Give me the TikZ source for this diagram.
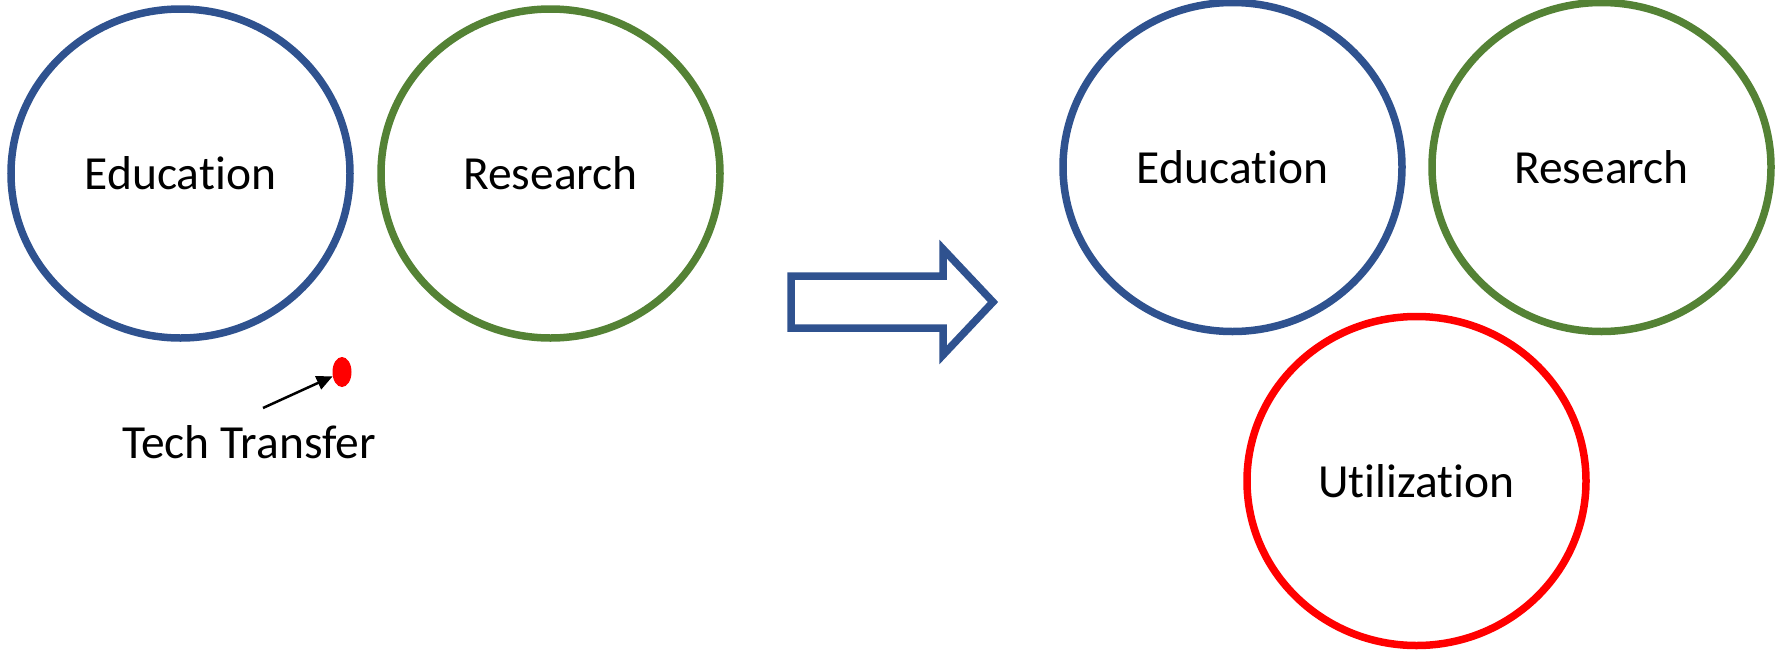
\documentclass[tikz,border=0pt]{standalone}
\usepackage{fontspec}
\setmainfont{Carlito}[Ligatures={NoCommon}]
\usetikzlibrary{shapes.geometric,arrows.meta}
\definecolor{eblue}{RGB}{47,82,143}
\definecolor{rgreen}{RGB}{84,130,53}
\definecolor{ured}{RGB}{255,0,0}
\tikzset{
  oval/.style={ellipse, draw, line width=7.5pt, minimum width=339pt, minimum height=329pt, inner sep=0pt, font=\fontsize{47.5}{52}\selectfont},
  lbl/.style={inner sep=0pt, font=\fontsize{47.5}{52}\selectfont},
  blockarrow/.style={draw=eblue, line width=7.5pt, line join=miter},
  pointer/.style={draw=black, line width=2.5pt, -{Triangle[length=16pt,width=14pt]}}
}
\begin{document}
\begin{tikzpicture}[x=1pt,y=-1pt]
\useasboundingbox (0,0) rectangle (1777,651);
% left side
\node[oval, draw=eblue] (edu1) at (180.5,173.5) {Education};
\node[oval, draw=rgreen] (res1) at (550.5,173.5) {Research};
\node[ellipse, fill=ured, minimum width=19pt, minimum height=30pt, inner sep=0pt] (dot) at (342,372) {};
\coordinate (ttstart) at (263,408);
\draw[pointer] (ttstart) -- (dot);
\node[lbl] (tt) at (249,442) {Tech Transfer};
% block arrow
\draw[blockarrow] (791,276) -- (943,276) -- (943,249) -- (993,302) -- (943,355) -- (943,328) -- (791,328) -- cycle;
% right side
\node[oval, draw=eblue] (edu2) at (1232.5,167) {Education};
\node[oval, draw=rgreen] (res2) at (1601.5,167) {Research};
\node[oval, draw=ured] (uti) at (1416.5,481) {Utilization};
\end{tikzpicture}
\end{document}
